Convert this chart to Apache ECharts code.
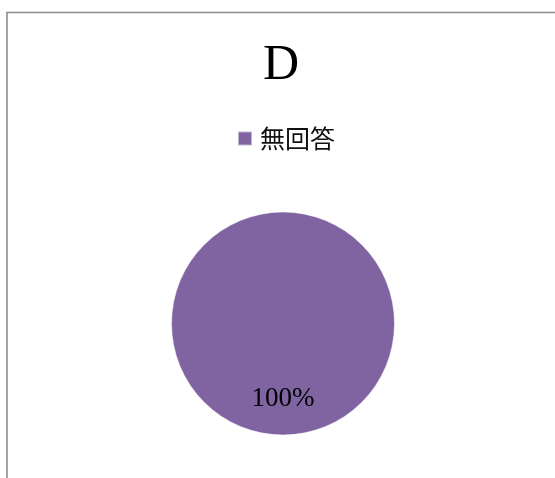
<!DOCTYPE html>
<html><head><meta charset="utf-8">
<script src="https://cdn.jsdelivr.net/npm/echarts@6/dist/echarts.min.js"></script>
<style>html,body{margin:0;padding:0;background:#fff}#c{width:555px;height:478px}</style>
</head><body><div id="c"></div>
<script>
const title = 'D';
const categories = ['無回答'];
const values = [100];
const colors = ['#8064A2'];

const chart = echarts.init(document.getElementById('c'), null, {renderer: 'canvas'});
chart.setOption({
  animation: false,
  backgroundColor: '#fff',
  graphic: [{
    type: 'rect', silent: true,
    shape: {x: 7, y: 12.5, width: 700, height: 700},
    style: {fill: 'none', stroke: '#8c8c8c', lineWidth: 1.6}
  }],
  title: {
    text: title, left: 258, top: 36,
    textStyle: {fontFamily: 'Liberation Serif, DejaVu Serif, serif', fontWeight: 'normal', fontSize: 50, color: '#000'}
  },
  legend: {
    data: categories, left: 232, top: 121,
    icon: 'rect', itemWidth: 14, itemHeight: 14,
    textStyle: {fontFamily: 'Noto Sans CJK JP, sans-serif', fontSize: 25, color: '#111', padding: [0,0,0,3]}
  },
  series: [{
    type: 'pie',
    center: [283, 323.5], radius: 111.5,
    startAngle: 90, clockwise: true,
    data: categories.map((c, i) => ({name: c, value: values[i], itemStyle: {color: colors[i]}})),
    itemStyle: {borderColor: 'rgba(255,255,255,0.5)', borderWidth: 1},
    label: {
      show: true, position: 'inside',
      formatter: p => Math.round(p.percent) + '%',
      fontFamily: 'Liberation Serif, DejaVu Serif, serif', fontSize: 27, color: '#000'
    },
    labelLayout: {dy: 17},
    emphasis: {disabled: true}
  }]
});
</script></body></html>
